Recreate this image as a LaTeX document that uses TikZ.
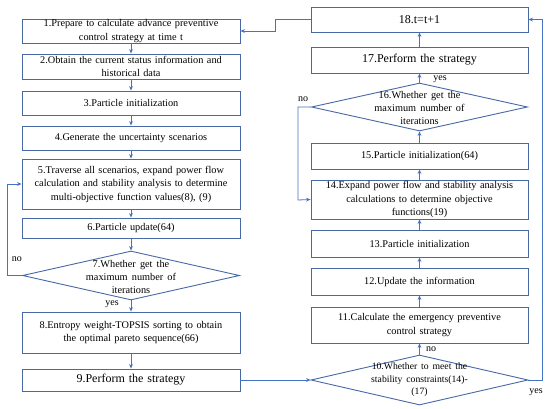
\documentclass[tikz,border=0pt]{standalone}
\usepackage{fontspec}
\setmainfont{Liberation Serif}
\usetikzlibrary{arrows.meta,shapes.geometric}
\definecolor{bord}{RGB}{72,104,166}
\definecolor{lnk}{RGB}{68,114,196}
\newcommand{\wsp}{\spaceskip=0.4em plus 0.1em\relax}
\begin{document}
\begin{tikzpicture}[x=1pt,y=-1pt,
  box/.style={draw=bord,line width=0.9pt,fill=white,minimum width=218pt,inner sep=0pt,align=center,text width=214pt,font=\fontsize{10.3}{13.5}\selectfont\wsp},
  bigbox/.style={box,font=\fontsize{12}{14}\selectfont\wsp},
  dia/.style={draw=bord,line width=0.9pt,diamond,minimum width=217pt,inner sep=0pt},
  dtext/.style={align=center,font=\fontsize{10.3}{13}\selectfont\wsp,inner sep=0pt},
  arr/.style={draw=lnk,line width=0.8pt,-{Stealth[length=4.5pt,width=3.8pt]}},
  lab/.style={font=\fontsize{10}{12}\selectfont,inner sep=0pt}]
\fill[white] (0,0) rectangle (550,408);
\useasboundingbox (0,0) rectangle (550,408);
% left column
\node[box,minimum height=24pt] (b1) at (131,31) {1.Prepare to calculate advance preventive\\control strategy at time t};
\node[box,minimum height=25pt] (b2) at (131,66.5) {2.Obtain the current status information and\\historical data};
\node[box,minimum height=24pt] (b3) at (131,103) {3.Particle initialization};
\node[box,minimum height=24pt] (b4) at (131,138) {4.Generate the uncertainty scenarios};
\node[box,minimum height=50pt] (b5) at (131,184) {5.Traverse all scenarios, expand power flow\\calculation and stability analysis to determine\\multi-objective function values(8), (9)};
\node[box,minimum height=20pt] (b6) at (131,228) {6.Particle update(64)};
\node[dia,minimum height=49pt] (d7) at (131,275.5) {};
\node[dtext] (d7t) at (131,277) {7.Whether get the\\maximum number of\\iterations};
\node[box,minimum height=41pt] (b8) at (131,332.5) {8.Entropy weight-TOPSIS sorting to obtain\\the optimal pareto sequence(66)};
\node[bigbox,minimum height=22pt] (b9) at (131,380) {9.Perform the strategy};
% right column
\node[dia,minimum height=50pt] (d10) at (419.5,380) {};
\node[dtext,font=\fontsize{9.7}{12.5}\selectfont\wsp] (d10t) at (419.5,380) {10.Whether to meet the\\stability constraints(14)-\\(17)};
\node[box,minimum width=217pt,minimum height=36pt] (b11) at (419.5,325) {11.Calculate the emergency preventive\\control strategy};
\node[box,minimum width=217pt,minimum height=27pt] (b12) at (419.5,281.5) {12.Update the information};
\node[box,minimum width=217pt,minimum height=27pt] (b13) at (419.5,243.5) {13.Particle initialization};
\node[box,minimum width=217pt,minimum height=39pt] (b14) at (419.5,199.5) {14.Expand power flow and stability analysis\\calculations to determine objective\\functions(19)};
\node[box,minimum width=217pt,minimum height=26pt] (b15) at (419.5,156) {15.Particle initialization(64)};
\node[dia,minimum width=216pt,minimum height=48pt] (d16) at (419.5,107) {};
\node[dtext] (d16t) at (419.5,108) {16.Whether get the\\maximum number of\\iterations};
\node[bigbox,minimum width=217pt,minimum height=26pt] (b17) at (419.5,60) {17.Perform the strategy};
\node[bigbox,minimum width=217pt,minimum height=25pt] (b18) at (419.5,19.5) {18.t=t+1};
% left flow
\draw[arr] (b1) -- (b2);
\draw[arr] (b2) -- (b3);
\draw[arr] (b3) -- (b4);
\draw[arr] (b4) -- (b5);
\draw[arr] (b5) -- (b6);
\draw[arr] (b6) -- (d7.north);
\draw[arr] (d7.south) -- (b8);
\draw[arr] (b8) -- (b9);
\draw[arr] (d7.west) -- (7,275.5) -- (7,184) -- (b5.west);
\node[lab] (no7) at (17,259) {no};
\node[lab] (yes7) at (112,304) {yes};
\draw[arr] (b9.east) -- (d10.west);
% right flow
\draw[arr] (d10.north) -- (b11);
\node[lab] (no10) at (431,349) {no};
\draw[arr] (b11) -- (b12);
\draw[arr] (b12) -- (b13);
\draw[arr] (b13) -- (b14);
\draw[arr] (b14) -- (b15);
\draw[arr] (b15) -- (d16.south);
\draw[arr] (d16.north) -- (b17);
\node[lab] (yes16) at (440,79) {yes};
\draw[arr] (b17) -- (b18);
\draw[arr] (d16.west) -- (298,107) -- (298,200) -- (b14.west);
\node[lab] (no16) at (303,99) {no};
\draw[arr] (d10.east) -- (542,380) -- (542,19.5) -- (b18.east);
\node[lab] (yes10) at (536,392) {yes};
\draw[arr] (b18.west) -- (275,19.5) -- (275,31) -- (b1.east);
\end{tikzpicture}
\end{document}
